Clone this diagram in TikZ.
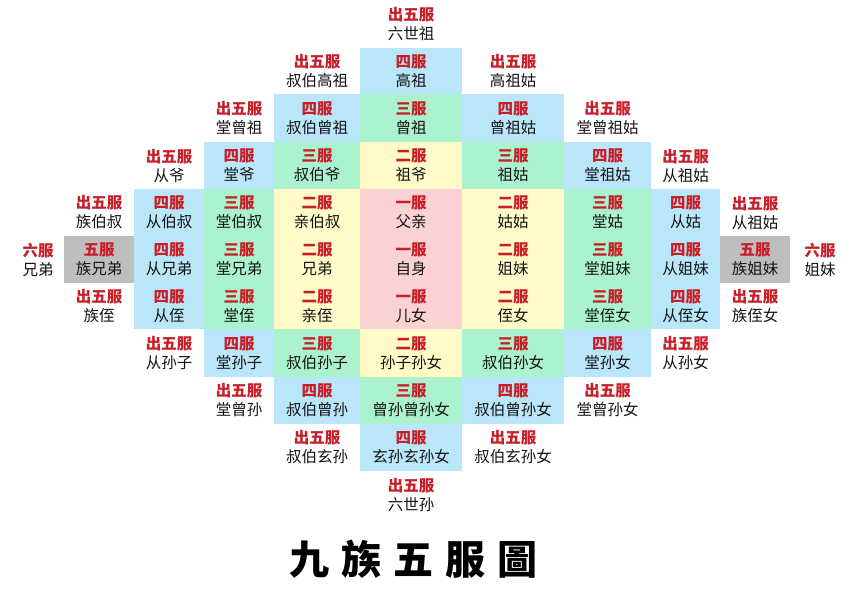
\documentclass[tikz,border=0pt]{standalone}
\usepackage{fontspec}
\setmainfont{Noto Sans CJK SC}
\newfontfamily\titlefont{Noto Sans CJK TC}
\definecolor{cblue}{RGB}{185,230,248}
\definecolor{cgreen}{RGB}{170,243,206}
\definecolor{cyellow}{RGB}{255,250,200}
\definecolor{cpink}{RGB}{250,210,212}
\definecolor{cgray}{RGB}{190,190,190}
\definecolor{labred}{RGB}{200,30,40}
\definecolor{namek}{RGB}{20,20,20}
\def\colL{{12,64,134,204,274,360,462,564,651,720,790}}
\def\colR{{64,134,204,274,360,462,564,651,720,790,850}}
\def\rowT{{0,48,94,142,189,236,283,329,377,424,471}}
\def\rowB{{48,94,142,189,236,283,329,377,424,471,518}}
\tikzset{
  cellbox/.style={draw=none, inner sep=0pt, align=center, text=namek,
    font=\fontsize{15.5}{19}\selectfont},
  titlestyle/.style={inner sep=0pt, font=\titlefont\bfseries\fontsize{40}{40}\selectfont}
}
\newcommand\fcell[5]{%
  \pgfmathsetmacro\xl{\colL[#1]}\pgfmathsetmacro\xr{\colR[#1]}%
  \pgfmathsetmacro\yt{\rowT[#2]}\pgfmathsetmacro\yb{\rowB[#2]}%
  \pgfmathsetmacro\cw{\xr-\xl}\pgfmathsetmacro\ch{\yb-\yt}%
  \pgfmathsetmacro\cx{(\xl+\xr)/2}\pgfmathsetmacro\cy{(\yt+\yb)/2}%
  \node[cellbox, fill=#3, minimum width=\cw pt, minimum height=\ch pt] (c#1x#2) at (\cx,\cy)
    {{\bfseries\color{labred}#4}\\#5};%
}
\begin{document}
\begin{tikzpicture}[x=1pt,y=-1pt]
\useasboundingbox[fill=white] (0,0) rectangle (850,600);
% row 0
\fcell{5}{0}{white}{出五服}{六世祖}
% row 1
\fcell{4}{1}{white}{出五服}{叔伯高祖}
\fcell{5}{1}{cblue}{四服}{高祖}
\fcell{6}{1}{white}{出五服}{高祖姑}
% row 2
\fcell{3}{2}{white}{出五服}{堂曾祖}
\fcell{4}{2}{cblue}{四服}{叔伯曾祖}
\fcell{5}{2}{cgreen}{三服}{曾祖}
\fcell{6}{2}{cblue}{四服}{曾祖姑}
\fcell{7}{2}{white}{出五服}{堂曾祖姑}
% row 3
\fcell{2}{3}{white}{出五服}{从爷}
\fcell{3}{3}{cblue}{四服}{堂爷}
\fcell{4}{3}{cgreen}{三服}{叔伯爷}
\fcell{5}{3}{cyellow}{二服}{祖爷}
\fcell{6}{3}{cgreen}{三服}{祖姑}
\fcell{7}{3}{cblue}{四服}{堂祖姑}
\fcell{8}{3}{white}{出五服}{从祖姑}
% row 4
\fcell{1}{4}{white}{出五服}{族伯叔}
\fcell{2}{4}{cblue}{四服}{从伯叔}
\fcell{3}{4}{cgreen}{三服}{堂伯叔}
\fcell{4}{4}{cyellow}{二服}{亲伯叔}
\fcell{5}{4}{cpink}{一服}{父亲}
\fcell{6}{4}{cyellow}{二服}{姑姑}
\fcell{7}{4}{cgreen}{三服}{堂姑}
\fcell{8}{4}{cblue}{四服}{从姑}
\fcell{9}{4}{white}{出五服}{从祖姑}
% row 5
\fcell{0}{5}{white}{六服}{兄弟}
\fcell{1}{5}{cgray}{五服}{族兄弟}
\fcell{2}{5}{cblue}{四服}{从兄弟}
\fcell{3}{5}{cgreen}{三服}{堂兄弟}
\fcell{4}{5}{cyellow}{二服}{兄弟}
\fcell{5}{5}{cpink}{一服}{自身}
\fcell{6}{5}{cyellow}{二服}{姐妹}
\fcell{7}{5}{cgreen}{三服}{堂姐妹}
\fcell{8}{5}{cblue}{四服}{从姐妹}
\fcell{9}{5}{cgray}{五服}{族姐妹}
\fcell{10}{5}{white}{六服}{姐妹}
% row 6
\fcell{1}{6}{white}{出五服}{族侄}
\fcell{2}{6}{cblue}{四服}{从侄}
\fcell{3}{6}{cgreen}{三服}{堂侄}
\fcell{4}{6}{cyellow}{二服}{亲侄}
\fcell{5}{6}{cpink}{一服}{儿女}
\fcell{6}{6}{cyellow}{二服}{侄女}
\fcell{7}{6}{cgreen}{三服}{堂侄女}
\fcell{8}{6}{cblue}{四服}{从侄女}
\fcell{9}{6}{white}{出五服}{族侄女}
% row 7
\fcell{2}{7}{white}{出五服}{从孙子}
\fcell{3}{7}{cblue}{四服}{堂孙子}
\fcell{4}{7}{cgreen}{三服}{叔伯孙子}
\fcell{5}{7}{cyellow}{二服}{孙子孙女}
\fcell{6}{7}{cgreen}{三服}{叔伯孙女}
\fcell{7}{7}{cblue}{四服}{堂孙女}
\fcell{8}{7}{white}{出五服}{从孙女}
% row 8
\fcell{3}{8}{white}{出五服}{堂曾孙}
\fcell{4}{8}{cblue}{四服}{叔伯曾孙}
\fcell{5}{8}{cgreen}{三服}{曾孙曾孙女}
\fcell{6}{8}{cblue}{四服}{叔伯曾孙女}
\fcell{7}{8}{white}{出五服}{堂曾孙女}
% row 9
\fcell{4}{9}{white}{出五服}{叔伯玄孙}
\fcell{5}{9}{cblue}{四服}{玄孙玄孙女}
\fcell{6}{9}{white}{出五服}{叔伯玄孙女}
% row 10
\fcell{5}{10}{white}{出五服}{六世孙}
% title
\node[titlestyle] (title) at (413,559) {九\hspace{12pt}族\hspace{12pt}五\hspace{12pt}服\hspace{12pt}圖};
\end{tikzpicture}
\end{document}
